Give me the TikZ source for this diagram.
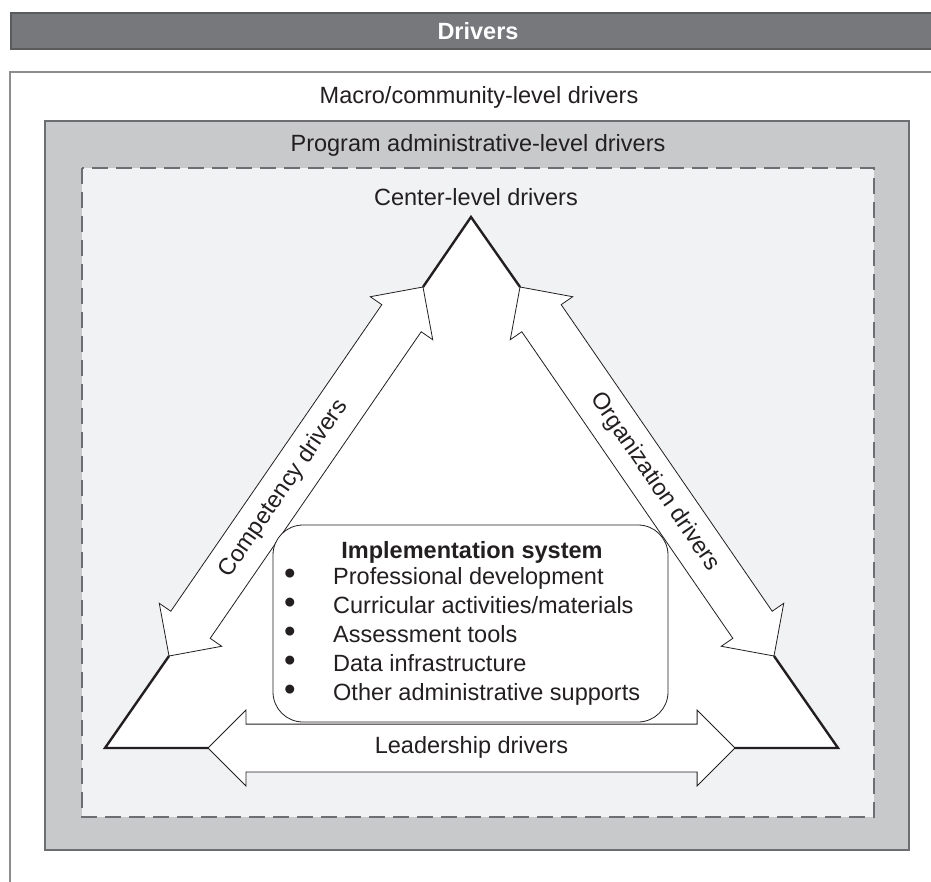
\documentclass[tikz,border=0pt]{standalone}
\usepackage{fontspec}
\setmainfont{Liberation Sans}
\usetikzlibrary{shapes.arrows,calc}
\definecolor{ink}{HTML}{231F20}
\definecolor{bannerfill}{HTML}{77787B}
\definecolor{bannerline}{HTML}{5A5B5D}
\definecolor{frameline}{HTML}{8C8D8F}
\definecolor{progfill}{HTML}{C8C9CB}
\definecolor{progline}{HTML}{6D6E71}
\definecolor{centerfill}{HTML}{F1F2F4}
\newcommand{\drvfont}{\fontsize{23.5}{29}\selectfont}
\newcommand{\implbullet}{\scalebox{1.4}{\textbullet}}
\begin{document}
\begin{tikzpicture}[x=1pt, y=-1pt,
  level/.style={text=ink, font=\drvfont},
  driver/.style={shape=double arrow, draw=ink, fill=white, line width=0.8pt, line join=miter,
    double arrow head extend=14pt, inner xsep=0pt, inner ysep=12.75pt,
    text height=16.5pt, text depth=5pt, text=ink, font=\drvfont},
  corner/.style={draw=ink, line width=2.4pt, line join=miter}]
\useasboundingbox (0,0) rectangle (931,882);
\clip (0,0) rectangle (931,882);
% banner
\draw[fill=bannerfill, draw=bannerline, line width=1.5pt] (11,13) rectangle (945,49);
\node[text=white, font=\bfseries\drvfont] (title) at (478,31) {Drivers};
% nested levels
\draw[frameline, line width=1.5pt] (10,900) -- (10,72) -- (945,72);
\node[level] (macro) at (479,97) {Macro/community-level drivers};
\draw[fill=progfill, draw=progline, line width=2pt] (45,121) rectangle (909,850);
\node[level] (program) at (478,145) {Program administrative-level drivers};
\draw[fill=centerfill, draw=progline, line width=2pt, dash pattern=on 16pt off 8pt] (82,168) rectangle (874,817);
\node[level] (center) at (476,197) {Center-level drivers};
% triangle
\coordinate (top) at (471,217);
\coordinate (bl) at (105,748);
\coordinate (br) at (838,748);
\coordinate (tl1) at (423,287);
\coordinate (tr1) at (520,287);
\coordinate (bl1) at (169,656);
\coordinate (bl2) at (208,748);
\coordinate (br1) at (774,656);
\coordinate (br2) at (735,748);
\fill[white] (top) -- (bl) -- (br) -- cycle;
\node[driver, minimum height=448pt, rotate=55.46] (comp) at ($(bl1)!0.5!(tl1)$) {Competency drivers\rule{42pt}{0pt}};
\node[driver, minimum height=448pt, rotate=-55.46] (org) at ($(tr1)!0.5!(br1)$) {\rule{26pt}{0pt}Organization drivers};
\node[driver, minimum height=527pt] (lead) at ($(bl2)!0.5!(br2)$) {Leadership drivers};
\draw[corner] (tl1) -- (top) -- (tr1);
\draw[corner] (bl1) -- (bl) -- (bl2);
\draw[corner] (br1) -- (br) -- (br2);
% implementation system
\node[draw=ink, fill=white, line width=0.8pt, rounded corners=30pt, minimum width=395pt, minimum height=197pt] (impl) at (470.5,623.5) {};
\node[text=ink, font=\bfseries\drvfont] (impltitle) at (472,552) {Implementation system};
\node[anchor=west, inner sep=0pt, text=ink, font=\drvfont] (impllist) at (284,637) {%
  \begin{tabular}{@{}p{49pt}@{}l@{}}
  \implbullet & Professional development\\
  \implbullet & Curricular activities/materials\\
  \implbullet & Assessment tools\\
  \implbullet & Data infrastructure\\
  \implbullet & Other administrative supports
  \end{tabular}};
\end{tikzpicture}
\end{document}
